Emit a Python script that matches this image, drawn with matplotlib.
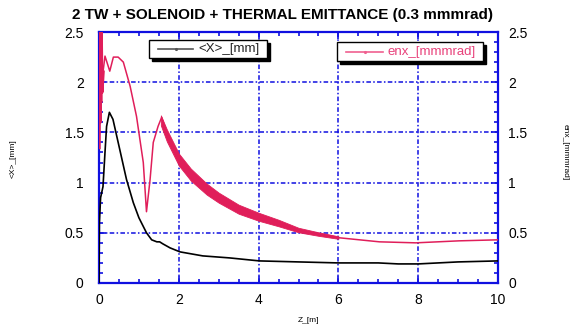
import matplotlib
matplotlib.use("Agg")
import matplotlib.pyplot as plt
import matplotlib.transforms as mtrans
from matplotlib.patches import Rectangle
from matplotlib.lines import Line2D

# ---- data ----
z_x = [0, 0.01, 0.04, 0.1, 0.15, 0.19, 0.26, 0.35, 0.52, 0.65, 0.69, 0.86, 1.0, 1.19,
       1.32, 1.45, 1.52, 1.6, 1.78, 2.03, 2.6, 3.27, 4.02, 5.0, 6.0, 7.0, 7.5, 8.0, 8.5, 9.0, 10.0]
x_mm = [0.0, 0.6, 0.85, 0.96, 1.30, 1.56, 1.70, 1.63, 1.33, 1.10, 1.03, 0.80, 0.65, 0.50,
        0.43, 0.41, 0.41, 0.39, 0.35, 0.31, 0.27, 0.25, 0.22, 0.21, 0.20, 0.20, 0.19, 0.19, 0.20, 0.21, 0.22]

z_e = [0, 0.01, 0.02, 0.03, 0.04, 0.05, 0.07, 0.1, 0.15, 0.27, 0.36, 0.48, 0.61, 0.78, 0.94,
       1.11, 1.19, 1.28, 1.36, 1.48, 1.57, 1.73, 2.03, 2.36, 2.86, 3.53, 4.03, 4.5, 5.03,
       6.03, 7.03, 7.94, 9.03, 10.0]
enx = [1.35, 2.6, 1.6, 2.6, 1.8, 2.6, 1.9, 2.1, 2.26, 2.11, 2.25, 2.25, 2.2, 1.96, 1.66,
       1.20, 0.71, 1.03, 1.40, 1.56, 1.65, 1.46, 1.23, 1.05, 0.90, 0.73, 0.65, 0.60, 0.525,
       0.45, 0.41, 0.40, 0.42, 0.43]

# envelope of the noisy emittance band
z_band = [1.55, 1.7, 2.0, 2.3, 2.7, 3.0, 3.5, 4.0, 4.5, 5.0, 5.5, 6.0]
band_lo = [1.57, 1.41, 1.17, 1.02, 0.88, 0.80, 0.69, 0.62, 0.565, 0.505, 0.47, 0.44]
band_hi = [1.67, 1.53, 1.29, 1.14, 0.99, 0.90, 0.78, 0.70, 0.63, 0.55, 0.505, 0.465]

x_ticks = [0, 2, 4, 6, 8, 10]
x_ticklabels = ["0", "2", "4", "6", "8", "10"]
y_ticks = [0, 0.5, 1, 1.5, 2, 2.5]
y_ticklabels = ["0", "0.5", "1", "1.5", "2", "2.5"]

title = "2 TW + SOLENOID + THERMAL EMITTANCE (0.3 mmmrad)"
left_label = "<X>_[mm]"
right_label = "enx_[mmmrad]"
x_label = "Z_[m]"

# ---- style ----
plt.rcParams['font.family'] = ['Liberation Sans', 'DejaVu Sans']
W, H = 571, 326
fig = plt.figure(figsize=(W / 100, H / 100), dpi=100)
ax = fig.add_axes([99 / W, 1 - 283 / H, (498 - 99) / W, (283 - 32) / H])

BLUE = '#1010e0'
RED = '#e01e5a'

ax.set_xlim(0, 10)
ax.set_ylim(0, 2.5)

ax.fill_between(z_band, band_lo, band_hi, color=RED, lw=0.6, zorder=3)
ax.plot(z_e, enx, color=RED, lw=1.1, zorder=3)
ax.plot(z_e[:8], enx[:8], color=RED, lw=2.5, zorder=3)
ax.plot(z_x, x_mm, color='black', lw=1.2, zorder=4)

ax.set_xticks(x_ticks)
ax.set_xticklabels(x_ticklabels)
ax.set_yticks(y_ticks)
ax.set_yticklabels(y_ticklabels)
ax.set_xticks([i * 0.5 for i in range(21)], minor=True)
ax.set_yticks([i * 0.1 for i in range(26)], minor=True)
ax.tick_params(which='both', direction='in', color=BLUE, top=True, right=True,
               labelsize=10, width=1.2)
ax.tick_params(which='major', length=5)
ax.tick_params(which='minor', length=3)
ax.tick_params(axis='y', which='both', pad=11)
ax.tick_params(axis='x', which='both', pad=7)
ax.tick_params(axis='y', labelright=True, right=True)
for s in ax.spines.values():
    s.set_color(BLUE)
    s.set_linewidth(1.6)
ax.grid(True, which='major', color=BLUE, lw=1.1, ls=(0, (3, 1.5, 1, 1.5)))
ax.set_axisbelow(False)

offset = mtrans.ScaledTranslation(-3.8 / 72, 0, fig.dpi_scale_trans)
for t in ax.yaxis.get_major_ticks():
    t.label2.set_transform(t.label2.get_transform() + offset)

fig.text(283 / W, 1 - 15 / H, title, ha='center', va='center', fontsize=11,
         fontweight='bold')
fig.text(13 / W, 1 - 159 / H, left_label, rotation=90, ha='center', va='center', fontsize=6)
fig.text(565 / W, 1 - 152 / H, right_label, rotation=270, ha='center', va='center', fontsize=6)
fig.text(308 / W, 1 - 320 / H, x_label, ha='center', va='center', fontsize=6)

# legend boxes
def legbox(x0, x1, y0, y1, l0, l1, tx, lcol, tcol, text):
    fx = lambda p: p / W
    fy = lambda p: 1 - p / H
    fig.patches.append(Rectangle((fx(x0 + 3), fy(y1 + 3)), fx(x1 - x0), (y1 - y0) / H,
                                 transform=fig.transFigure, facecolor='black',
                                 edgecolor='black', zorder=10))
    fig.patches.append(Rectangle((fx(x0), fy(y1)), fx(x1 - x0), (y1 - y0) / H,
                                 transform=fig.transFigure, facecolor='white',
                                 edgecolor='black', lw=1.0, zorder=11))
    ym = (y0 + y1) / 2
    fig.lines.append(Line2D([fx(l0), fx((l0 + l1) / 2), fx(l1)], [fy(ym)] * 3,
                            transform=fig.transFigure, color=lcol, lw=1.2,
                            marker='.', markersize=2.5, markevery=[1], zorder=12))
    fig.text(fx(tx), fy(ym), text, ha='left', va='center', fontsize=9.5,
             color=tcol, zorder=12)

legbox(149, 267, 40, 58, 158, 193, 198, '#555555', '#222222', left_label)
legbox(337, 483, 42, 61, 346, 383, 387, '#f06090', '#e8407a', right_label)

fig.savefig("out.png", dpi=100)
